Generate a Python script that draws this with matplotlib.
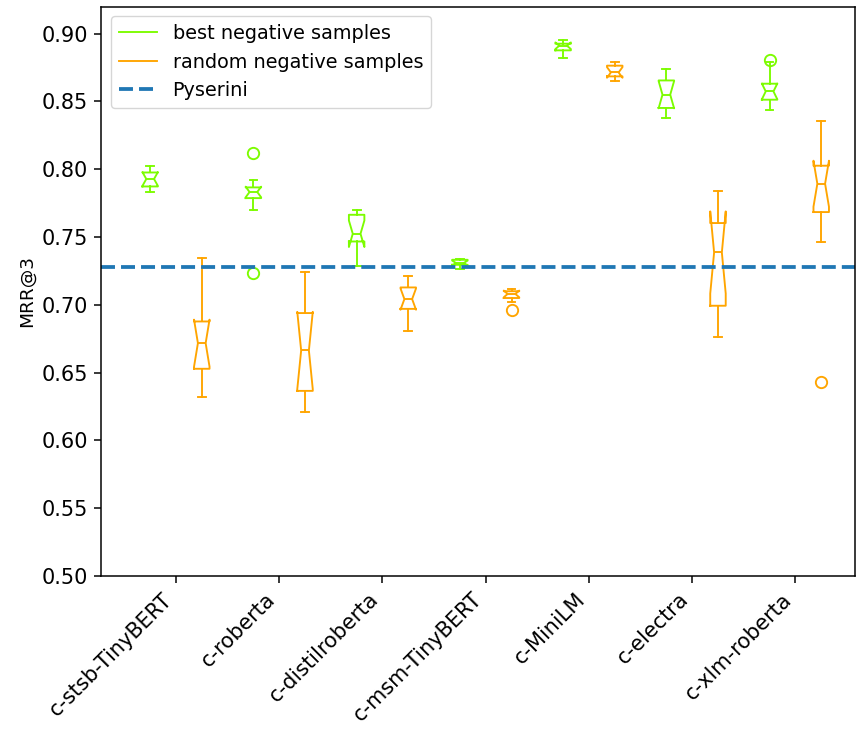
import numpy as np
import matplotlib
matplotlib.use("Agg")
import matplotlib.pyplot as plt
from matplotlib.lines import Line2D
from matplotlib.ticker import FormatStrFormatter

models = ["c-stsb-TinyBERT", "c-roberta", "c-distilroberta", "c-msm-TinyBERT",
          "c-MiniLM", "c-electra", "c-xlm-roberta"]

# MRR@3 distribution summaries, trained with the best negative samples
best_whislo = [0.7832, 0.7700, 0.7283, 0.7265, 0.8821, 0.8378, 0.8439]
best_q1 = [0.7873, 0.7787, 0.7467, 0.7295, 0.8877, 0.8452, 0.8513]
best_med = [0.7928, 0.7832, 0.7524, 0.7308, 0.8911, 0.8550, 0.8574]
best_q3 = [0.7976, 0.7866, 0.7664, 0.7332, 0.8926, 0.8655, 0.8631]
best_whishi = [0.8026, 0.7923, 0.7701, 0.7340, 0.8950, 0.8740, 0.8790]
best_fliers = [[], [0.8120, 0.7234], [], [], [], [], [0.8808]]

# MRR@3 distribution summaries, trained with random negative samples
rand_whislo = [0.6320, 0.6210, 0.6810, 0.7020, 0.8648, 0.6764, 0.7463]
rand_q1 = [0.6528, 0.6365, 0.6970, 0.7050, 0.8685, 0.6993, 0.7684]
rand_med = [0.6717, 0.6663, 0.7042, 0.7080, 0.8714, 0.7386, 0.7893]
rand_q3 = [0.6877, 0.6939, 0.7128, 0.7100, 0.8764, 0.7603, 0.8026]
rand_whishi = [0.7342, 0.7244, 0.7214, 0.7120, 0.8788, 0.7841, 0.8353]
rand_fliers = [[], [], [], [0.6963], [], [], [0.6434]]

pyserini = 0.728
n_runs = 10

GREEN = "#7CFC00"
ORANGE = "#FFA500"
BLUE = "#1f77b4"

S = 1.36  # overall scale of line widths and sizes
plt.rcParams["axes.linewidth"] = 0.8 * S
plt.rcParams["xtick.major.width"] = 0.8 * S
plt.rcParams["ytick.major.width"] = 0.8 * S
plt.rcParams["xtick.major.size"] = 3.5 * S
plt.rcParams["ytick.major.size"] = 3.5 * S
plt.rcParams["xtick.major.pad"] = 3.5 * S
plt.rcParams["ytick.major.pad"] = 3.5 * S


def make_stats(whislo, q1, med, q3, whishi, fliers):
    stats = []
    for lo, a, m, b, hi, fl in zip(whislo, q1, med, q3, whishi, fliers):
        half = 1.57 * (b - a) / np.sqrt(n_runs)
        stats.append(dict(whislo=lo, q1=a, med=m, q3=b, whishi=hi,
                          fliers=np.array(fl), cilo=m - half, cihi=m + half))
    return stats


fig = plt.figure(figsize=(8.57, 7.29), dpi=100)
ax = fig.add_axes([0.118, 0.21, 0.88, 0.781])

x = np.arange(len(models))
lw = 1.0 * S


def draw(stats, pos, color):
    ax.bxp(stats, positions=pos, widths=0.15, shownotches=True,
           manage_ticks=False,
           boxprops=dict(color=color, linewidth=lw),
           whiskerprops=dict(color=color, linewidth=lw),
           capprops=dict(color=color, linewidth=lw),
           medianprops=dict(color=color, linewidth=lw),
           flierprops=dict(marker="o", markerfacecolor="none",
                           markeredgecolor=color, markersize=6 * S,
                           markeredgewidth=lw))


draw(make_stats(best_whislo, best_q1, best_med, best_q3, best_whishi, best_fliers),
     x - 0.25, GREEN)
draw(make_stats(rand_whislo, rand_q1, rand_med, rand_q3, rand_whishi, rand_fliers),
     x + 0.25, ORANGE)

ax.axhline(pyserini, color=BLUE, linestyle="--", linewidth=2 * S)

ax.set_xlim(-0.725, 6.58)
ax.set_ylim(0.5, 0.92)
ax.set_yticks(np.arange(0.50, 0.901, 0.05))
ax.yaxis.set_major_formatter(FormatStrFormatter("%.2f"))
ax.set_xticks(x)
ax.set_xticklabels(models, rotation=45, ha="right", fontsize=15)
ax.tick_params(axis="y", labelsize=15)
ax.set_ylabel("MRR@3", fontsize=13.3)

handles = [Line2D([], [], color=GREEN, linewidth=lw),
           Line2D([], [], color=ORANGE, linewidth=lw),
           Line2D([], [], color=BLUE, linestyle="--", linewidth=2 * S)]
ax.legend(handles, ["best negative samples", "random negative samples", "Pyserini"],
          loc="upper left", fontsize=13.9)

fig.savefig("out.png", dpi=100)
